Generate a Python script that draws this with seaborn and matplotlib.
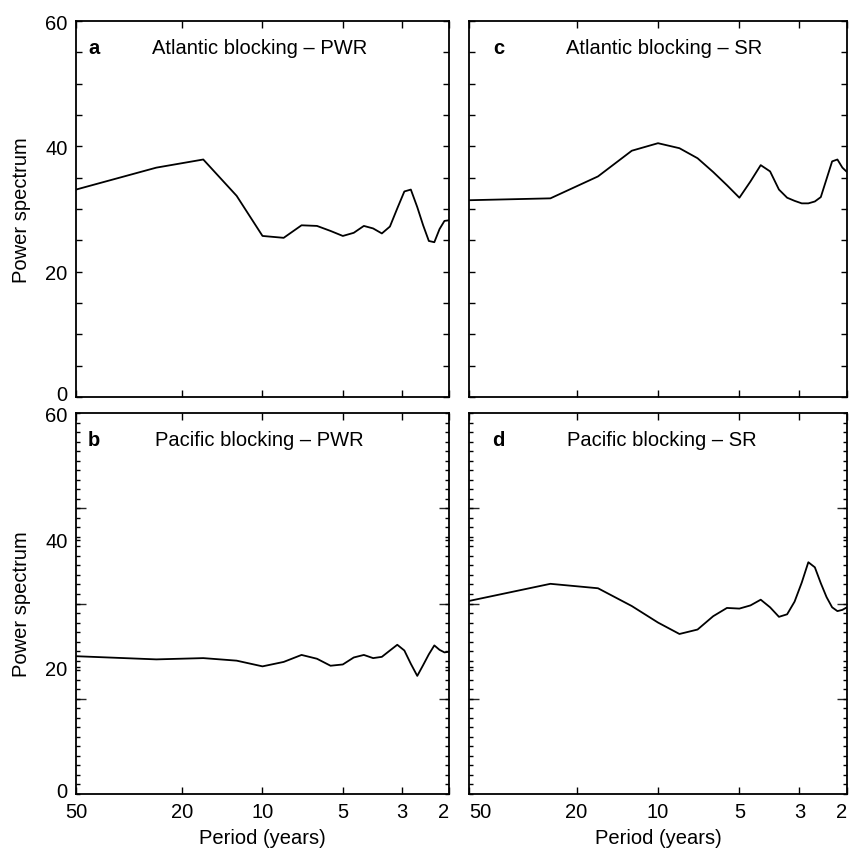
import numpy as np
import pandas as pd
import matplotlib
matplotlib.use("Agg")
import matplotlib.pyplot as plt
import matplotlib.ticker as mticker
import matplotlib.transforms as mtransforms
import seaborn as sns

# ---- data ----
period = [50, 25, 16.67, 12.5, 10, 8.33, 7.14, 6.25, 5.56, 5, 4.55, 4.17, 3.85,
          3.57, 3.33, 3.125, 2.94, 2.78, 2.63, 2.5, 2.38, 2.27, 2.17, 2.08, 2.0]
atl_pwr = [33.1, 36.6, 37.9, 32.1, 25.7, 25.4, 27.4, 27.3, 26.5, 25.7, 26.2, 27.3, 26.9,
           26.1, 27.2, 30.1, 32.8, 33.1, 30.3, 27.4, 24.9, 24.7, 26.8, 28.1, 28.2]
atl_sr = [31.4, 31.7, 35.2, 39.3, 40.5, 39.7, 38.1, 35.9, 33.8, 31.8, 34.4, 37.0, 36.0,
          33.1, 31.8, 31.3, 30.9, 30.9, 31.2, 31.9, 34.8, 37.6, 37.9, 36.6, 35.9]
pac_pwr = [21.7, 21.2, 21.4, 21.0, 20.1, 20.8, 21.9, 21.3, 20.2, 20.4, 21.5, 21.9, 21.4,
           21.6, 22.6, 23.5, 22.6, 20.5, 18.6, 20.3, 22.0, 23.4, 22.7, 22.3, 22.4]
pac_sr = [30.4, 33.1, 32.4, 29.6, 27.0, 25.2, 25.9, 28.0, 29.3, 29.2, 29.7, 30.6, 29.4,
          27.9, 28.3, 30.3, 33.3, 36.5, 35.7, 33.2, 31.0, 29.4, 28.8, 29.0, 29.4]

xticks = [50, 20, 10, 5, 3, 2]
yticks = [0, 20, 40, 60]
panel_letters = ["a", "c", "b", "d"]
panel_titles = ["Atlantic blocking \u2013 PWR", "Atlantic blocking \u2013 SR",
                "Pacific blocking \u2013 PWR", "Pacific blocking \u2013 SR"]
series = [atl_pwr, atl_sr, pac_pwr, pac_sr]

sns.set_theme(style="ticks")
plt.rcParams["font.family"] = ["Liberation Sans", "DejaVu Sans"]
plt.rcParams["axes.linewidth"] = 1.3
plt.rcParams["text.color"] = "black"
plt.rcParams["axes.labelcolor"] = "black"

FS = 14.5
fig = plt.figure(figsize=(8.49, 8.53), dpi=100)
W, H = 849.0, 853.0
boxes = [
    (76, 22, 449, 398),   # a
    (469, 22, 847, 398),  # c
    (76, 414, 449, 795),  # b
    (469, 414, 847, 795), # d
]
letter_x = [0.032, 0.064, 0.032, 0.061]
title_x = [0.493, 0.515, 0.491, 0.511]

for i, (x0, y0, x1, y1) in enumerate(boxes):
    ax = fig.add_axes([x0 / W, 1 - y1 / H, (x1 - x0) / W, (y1 - y0) / H])
    df = pd.DataFrame({"period": period, "power": series[i]})
    sns.lineplot(data=df, x="period", y="power", ax=ax, color="black",
                 linewidth=1.3, estimator=None, sort=True)
    ax.set_xscale("log")
    ax.set_xlim(50, 2)
    ax.set_ylim(0, 60)
    ax.xaxis.set_major_locator(mticker.FixedLocator(xticks))
    ax.xaxis.set_minor_locator(mticker.NullLocator())
    ax.xaxis.set_major_formatter(mticker.FixedFormatter([str(t) for t in xticks]))
    ax.yaxis.set_major_locator(mticker.FixedLocator(yticks))
    top_row = i < 2
    left_col = i % 2 == 0
    if top_row:
        ax.yaxis.set_minor_locator(mticker.MultipleLocator(5))
        ax.tick_params(axis="y", which="both", length=4.5, width=1.0)
    else:
        ax.yaxis.set_minor_locator(mticker.MultipleLocator(1.5))
        ax.tick_params(axis="y", which="both", length=3, width=1.0)
        for side in ("left", "right"):
            sec = ax.secondary_yaxis(side)
            sec.set_yticks([15, 30, 45])
            sec.tick_params(direction="in", length=7, width=1.0, labelleft=False,
                            labelright=False)
            sec.spines[side].set_visible(False)
    ax.tick_params(axis="both", which="both", direction="in", top=True, right=True,
                   labelsize=FS, colors="black")
    ax.tick_params(axis="x", which="major", length=5, width=1.0, pad=6)
    ax.tick_params(axis="y", which="major", pad=6)
    if not left_col:
        ax.tick_params(axis="y", labelleft=False)
    else:
        # lift the "0" label slightly, as in the reference
        ylabs = ax.get_yticklabels()
        off = mtransforms.ScaledTranslation(0, 4 / 100, fig.dpi_scale_trans)
        ylabs[0].set_transform(ylabs[0].get_transform() + off)
    if top_row:
        ax.tick_params(axis="x", labelbottom=False)
        ax.set_xlabel("")
    else:
        ax.set_xlabel("Period (years)", fontsize=FS, labelpad=5)
        labels = ax.get_xticklabels()
        labels[-1].set_horizontalalignment("right")
        if not left_col:
            labels[0].set_horizontalalignment("left")
    if left_col:
        ax.set_ylabel("Power spectrum", fontsize=FS, labelpad=10)
    else:
        ax.set_ylabel("")
    for sp in ax.spines.values():
        sp.set_visible(True)
        sp.set_color("black")
    ax.text(letter_x[i], 0.915, panel_letters[i], transform=ax.transAxes,
            fontsize=FS, fontweight="bold", ha="left", va="baseline")
    ax.text(title_x[i], 0.915, panel_titles[i], transform=ax.transAxes,
            fontsize=FS, ha="center", va="baseline")

fig.savefig("out.png", dpi=100)
